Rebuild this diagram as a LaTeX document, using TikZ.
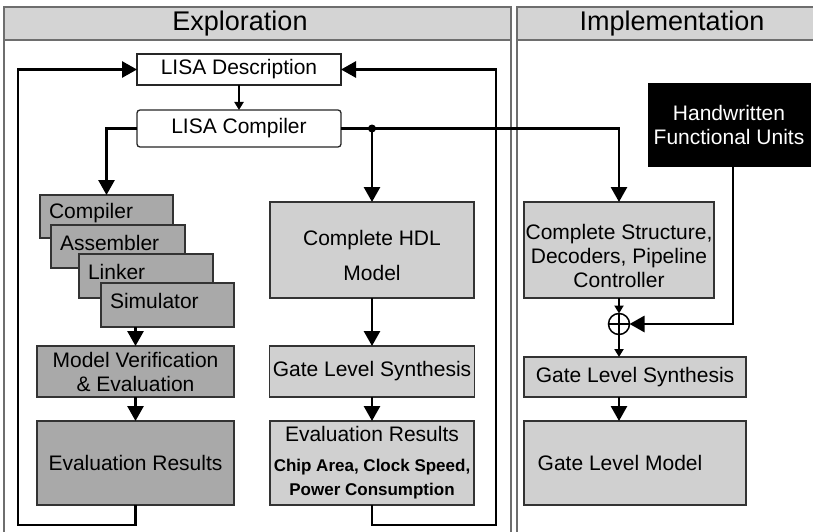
\documentclass[tikz,border=0pt]{standalone}
\usepackage{fontspec}
\setmainfont{Liberation Sans}
\usetikzlibrary{positioning,arrows.meta}

\definecolor{hdrgray}{HTML}{D4D4D4}
\definecolor{stackgray}{HTML}{A9A9A9}
\definecolor{boxgray}{HTML}{D0D0D0}
\definecolor{framegray}{HTML}{6E6E6E}

\begin{document}
\begin{tikzpicture}[x=1pt,y=-1pt]
      \tikzstyle{every node}=[font=\fontsize{21}{24}\selectfont, outer sep=0pt]
      \tikzstyle{whitebox}=[draw=black!85, line width=1.3pt, fill=white, minimum width=204pt]
      \tikzstyle{darkbox}=[draw=black!80, line width=1.3pt, fill=stackgray]
      \tikzstyle{lightbox}=[draw=black!80, line width=1.3pt, fill=boxgray]
      \tikzstyle{stacktext}=[anchor=west, inner sep=0pt, xshift=9pt, yshift=-18pt]
      \tikzstyle{conn}=[line width=2.8pt, -{Triangle[length=15pt,width=16pt]}]
      \tikzstyle{smallconn}=[line width=2.2pt, -{Triangle[length=8pt,width=9pt]}]
      \tikzstyle{header}=[font=\fontsize{27}{30}\selectfont]

      \useasboundingbox (0,0) rectangle (813,532);

      % panels
      \draw[framegray, line width=1.3pt] (4,545) |- (511,7) -- (511,545);
      \draw[framegray, line width=1.3pt, fill=hdrgray] (4,7) rectangle (511,40);
      \draw[framegray, line width=1.3pt] (517,545) |- (825,7);
      \draw[framegray, line width=1.3pt, fill=hdrgray] (517,7) rectangle (825,40);
      \node[header] (explo) at (240,24) {Exploration};
      \node[header] (impl) at (672,24) {Implementation};

      % LISA
      \node[whitebox, minimum height=31pt] (desc) at (239,69.5) {LISA Description};
      \node[whitebox, minimum height=37pt, rounded corners=3pt] (lcomp) at (239,128.5) {LISA Compiler};

      % software tools
      \node[darkbox, minimum width=133pt, minimum height=43pt,
            label={[stacktext]north west:Compiler}] (compiler) at (106.5,216.5) {};
      \node[darkbox, minimum width=134pt, minimum height=43pt,
            label={[stacktext]north west:Assembler}] (assembler) at (118,246.5) {};
      \node[darkbox, minimum width=134pt, minimum height=44pt,
            label={[stacktext]north west:Linker}] (linker) at (146,276) {};
      \node[darkbox, minimum width=133pt, minimum height=44pt,
            label={[stacktext]north west:Simulator}] (simulator) at (167.5,305) {};
      \node[darkbox, minimum width=197pt, minimum height=51pt, align=center] (verif) at (135.5,371.5)
            {Model Verification\\\& Evaluation};
      \node[darkbox, minimum width=197pt, minimum height=84pt] (evalL) at (135.5,463) {Evaluation Results};

      % HDL path
      \node[lightbox, minimum width=204pt, minimum height=96pt,
            label={[align=center, yshift=-5pt]center:Complete HDL\\[11pt]Model}] (hdl) at (372,250) {};
      \node[lightbox, minimum width=204pt, minimum height=51pt] (gls) at (372,371.5) {Gate Level Synthesis};
      \node[lightbox, minimum width=204pt, minimum height=84pt, align=center] (evalM) at (372,463)
            {Evaluation Results\\[6pt]\textbf{\fontsize{17}{20}\selectfont Chip Area, Clock Speed,}\\\textbf{\fontsize{17}{20}\selectfont Power Consumption}};

      % implementation
      \node[draw=black, fill=black, text=white, minimum width=162pt, minimum height=83pt, align=center] (hand)
            at (729,124.5) {Handwritten\\Functional Units};
      \node[lightbox, minimum width=190pt, minimum height=96pt,
            label={[align=center, yshift=-6pt]center:Complete Structure,\\Decoders, Pipeline\\Controller}] (cstruct) at (619,250) {};
      \node[draw, circle, line width=1.5pt, minimum size=21pt, inner sep=0pt,
            path picture={\draw[line width=1.5pt] (path picture bounding box.north) -- (path picture bounding box.south)
                              (path picture bounding box.west) -- (path picture bounding box.east);}] (plus) at (619,324) {};
      \node[lightbox, minimum width=222pt, minimum height=40pt] (gls2) at (635,377) {Gate Level Synthesis};
      \node[lightbox, minimum width=222pt, minimum height=84pt,
            label={[xshift=-15pt]center:Gate Level Model}] (glm) at (635,463) {};

      \coordinate (dot) at (hdl.north |- lcomp.east);
      \coordinate (fbL) at (18,525);
      \coordinate (fbR) at (496,525);

      % connections
      \draw[smallconn] (desc) -- (lcomp);
      \draw[conn] (lcomp.west) -| (compiler.north);
      \draw[conn] (lcomp.east) -| (cstruct.north);
      \fill (dot) circle (4pt);
      \draw[conn] (dot) -- (hdl.north);
      \draw[conn] (verif.north |- simulator.south) -- (verif.north);
      \draw[conn] (verif) -- (evalL);
      \draw[conn] (hdl) -- (gls);
      \draw[conn] (gls) -- (evalM);
      \draw[smallconn] (cstruct.south) -- (plus.north);
      \draw[smallconn] (plus.south) -- (plus.south |- gls2.north);
      \draw[conn] ([xshift=4pt]hand.south) |- (plus.east);
      \draw[conn] (plus |- gls2.south) -- (plus |- glm.north);

      % feedback loops
      \draw[conn] (evalL.south) |- (fbL) |- (desc.west);
      \draw[conn] (evalM.south) |- (fbR) |- (desc.east);

\end{tikzpicture}
\end{document}
